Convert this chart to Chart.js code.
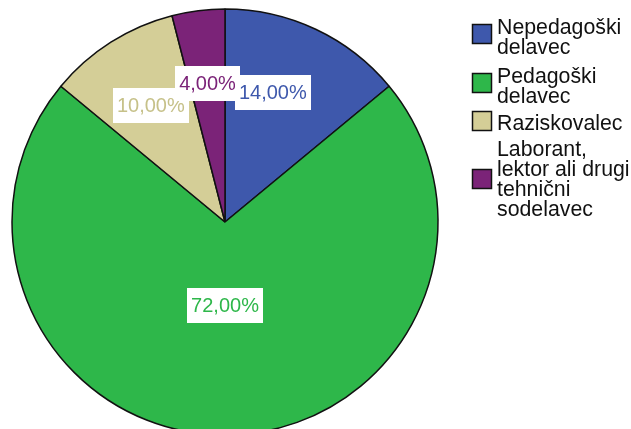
<!DOCTYPE html>
<html><head><meta charset="utf-8">
<script src="https://cdn.jsdelivr.net/npm/chart.js@4/dist/chart.umd.min.js"></script>
<style>
html,body{margin:0;padding:0;background:#fff;overflow:hidden;width:631px;height:429px}
#wrap{position:relative;width:631px;height:444px}
</style></head>
<body><div id="wrap"><canvas id="c"></canvas></div>
<script>
// ---- data ----
const categories = [["Nepedagoški","delavec"],["Pedagoški","delavec"],["Raziskovalec"],["Laborant,","lektor ali drugi","tehnični","sodelavec"]];
const values = [14, 72, 10, 4];
const valueLabels = ["14,00%","72,00%","10,00%","4,00%"];
const sliceColors = ["#3E58AC","#2EB74A","#D4CE97","#7B2378"];
const labelColors = ["#3E58AC","#2EB74A","#C6C189","#7B2378"];

// ---- label placement settings ----
const labelRadiusFrac = [0.65, 0.39, 0.65, 0.655];
const labelAngleShiftDeg = [-5, 0, 0, 0];
const labelDrawOrder = [1, 2, 3, 0];
const FONT = '"Liberation Sans", Arial, sans-serif';

const pctLabels = {
  id: 'pctLabels',
  afterDatasetsDraw(chart) {
    const ctx = chart.ctx;
    const meta = chart.getDatasetMeta(0);
    ctx.save();
    ctx.font = '20px ' + FONT;
    ctx.textAlign = 'center';
    ctx.textBaseline = 'middle';
    for (const i of labelDrawOrder) {
      const arc = meta.data[i];
      const p = arc.getProps(['x','y','startAngle','endAngle','outerRadius'], true);
      const a = (p.startAngle + p.endAngle) / 2 + labelAngleShiftDeg[i] * Math.PI / 180;
      const r = p.outerRadius * labelRadiusFrac[i];
      const cx = p.x + Math.cos(a) * r, cy = p.y + Math.sin(a) * r;
      const txt = valueLabels[i];
      const w = ctx.measureText(txt).width + 8, h = 35;
      ctx.fillStyle = '#fff';
      ctx.fillRect(Math.round(cx - w / 2), Math.round(cy - h / 2), Math.round(w), h);
      ctx.fillStyle = labelColors[i];
      ctx.fillText(txt, cx, cy + 1);
    }
    ctx.restore();
  }
};

const sideLegend = {
  id: 'sideLegend',
  afterDraw(chart) {
    const ctx = chart.ctx;
    const firstBaselines = [34, 83, 130, 156];
    const boxCenters = [34, 83, 121, 179];
    const lineH = 20, boxX = 472, boxS = 20, textX = 497;
    ctx.save();
    ctx.font = '21.3px ' + FONT;
    ctx.textAlign = 'left';
    ctx.textBaseline = 'alphabetic';
    chart.data.labels.forEach((lines, i) => {
      const b1 = firstBaselines[i];
      const by = Math.round(boxCenters[i] - boxS / 2);
      ctx.fillStyle = chart.data.datasets[0].backgroundColor[i];
      ctx.fillRect(boxX, by, boxS, boxS);
      ctx.strokeStyle = '#111';
      ctx.lineWidth = 1.5;
      ctx.strokeRect(boxX + 0.5, by + 0.5, boxS - 1, boxS - 1);
      ctx.fillStyle = '#111';
      lines.forEach((t, k) => ctx.fillText(t, textX, b1 + k * lineH));
    });
    ctx.restore();
  }
};

new Chart(document.getElementById('c'), {
  type: 'pie',
  data: {
    labels: categories,
    datasets: [{
      data: values,
      backgroundColor: sliceColors,
      borderColor: '#111',
      borderWidth: 1.5,
      hoverOffset: 0
    }]
  },
  options: {
    responsive: true,
    maintainAspectRatio: false,
    animation: false,
    radius: 213,
    layout: { padding: { left: 0, right: 181, top: 0, bottom: 0 } },
    plugins: { legend: { display: false }, tooltip: { enabled: false } }
  },
  plugins: [pctLabels, sideLegend]
});
</script>
</body></html>
